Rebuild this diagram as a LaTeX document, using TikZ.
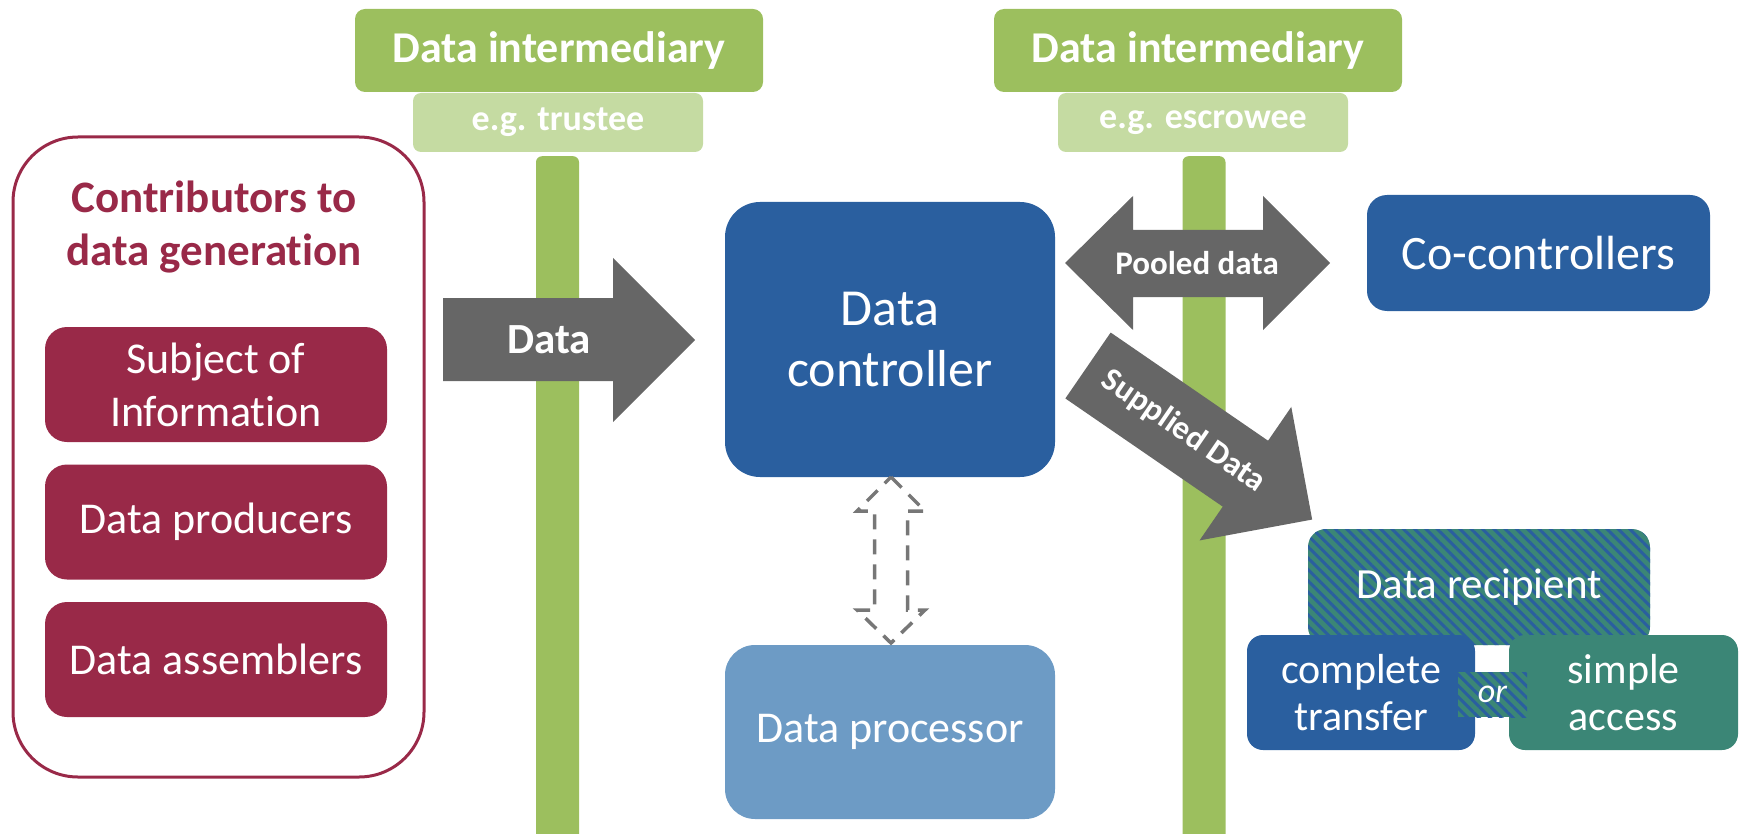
\documentclass[tikz,border=0pt]{standalone}
\usepackage{fontspec}
\setmainfont{Carlito}[Ligatures={NoCommon}]
\usetikzlibrary{patterns.meta}
\definecolor{cmaroon}{HTML}{992948}
\definecolor{cgreen}{HTML}{9CBF5E}
\definecolor{clight}{HTML}{C5DBA2}
\definecolor{cblue}{HTML}{2A5F9F}
\definecolor{cproc}{HTML}{6D9BC5}
\definecolor{cteal}{HTML}{3B8676}
\definecolor{cgray}{HTML}{666666}
\definecolor{cdash}{HTML}{777777}
\begin{document}
\begin{tikzpicture}[x=1pt,y=-1pt,
  every node/.style={inner sep=0pt, align=center, text=white},
  rbox/.style={fill=cmaroon, rounded corners=22pt, minimum width=342pt, minimum height=115pt, font=\fontsize{44}{53}\selectfont},
  ghead/.style={fill=cgreen, rounded corners=10pt, minimum width=408pt, minimum height=83pt, font=\bfseries\fontsize{44}{53}\selectfont},
  gsub/.style={fill=clight, rounded corners=8pt, minimum width=290pt, minimum height=59pt, font=\bfseries\fontsize{36}{43}\selectfont},
  gbar/.style={fill=cgreen, rounded corners=6pt, minimum width=43pt, minimum height=700pt, anchor=north},
  bbox/.style={fill=cblue, rounded corners=#1},
  blockarrow/.style={fill=cgray},
  arrowtext/.style={font=\bfseries\fontsize{#1}{#1}\selectfont},
  hatch/.style={fill=cteal, postaction={pattern={Lines[angle=-45,distance=8pt,line width=3pt]}, pattern color=cblue}},
]
\useasboundingbox (0,0) rectangle (1747,834);

% green intermediary bars
\node[gbar] (bar1) at (557.5,156) {};
\node[gbar] (bar2) at (1204,156) {};
\node[ghead] (int1) at (559,50.5) {Data intermediary};
\node[gsub] (eg1) at (558,122.5) {e.g. trustee};
\node[ghead] (int2) at (1198,50.5) {Data intermediary};
\node[gsub] (eg2) at (1203,122.5) {e.g. escrowee};

% contributors
\node[draw=cmaroon, line width=3pt, rounded corners=65pt, minimum width=411pt, minimum height=640pt] (contrib) at (218.5,457) {};
\node[text=cmaroon, font=\bfseries\fontsize{45}{53}\selectfont] (title) at (214,227) {Contributors to\\data generation};
\node[rbox] (subj) at (216,384.5) {Subject of\\Information};
\node[rbox] (prod) at (216,522) {Data producers};
\node[rbox] (asm) at (216,659.5) {Data assemblers};

% controller, processor, co-controllers
\node[bbox=35pt, minimum width=330pt, minimum height=275pt, font=\fontsize{52}{61}\selectfont] (ctrl) at (890,339.5) {Data\\controller};
\node[fill=cproc, rounded corners=30pt, minimum width=330pt, minimum height=174pt, font=\fontsize{44}{53}\selectfont] (proc) at (890,732) {Data processor};
\node[bbox=20pt, minimum width=343pt, minimum height=116pt, font=\fontsize{48}{58}\selectfont] (coc) at (1538.5,253) {Co-controllers};

% Data arrow
\fill[blockarrow] (443,298) -- (613,298) -- (613,258) -- (695,340) -- (613,422) -- (613,381) -- (443,381) -- cycle;
\node[arrowtext=43] (datatxt) at (549,340) {Data};

% Pooled data double arrow
\fill[blockarrow] (1065,263) -- (1133,196) -- (1133,230) -- (1263,230) -- (1263,196) -- (1330,263) -- (1263,330) -- (1263,297) -- (1133,297) -- (1133,330) -- cycle;
\node[arrowtext=33] (pooled) at (1197,263) {Pooled data};

% Supplied data arrow
\begin{scope}[shift={(1088,365.5)}, rotate=-34.5]
\fill[blockarrow] (0,-40) -- (191,-40) -- (191,-81) -- (272,0) -- (191,81) -- (191,40) -- (0,40) -- cycle;
\node[arrowtext=33, rotate=-34.5] (supplied) at (116,0) {Supplied Data};
\end{scope}

% dashed double arrow controller <-> processor
\draw[cdash, line width=3.5pt, dash pattern=on 15pt off 10pt] (891,477) -- (925,511) -- (907.5,511) -- (907.5,610) -- (925,610) -- (891,643) -- (857,610) -- (874.5,610) -- (874.5,511) -- (857,511) -- cycle;

% recipient
\node[hatch, rounded corners=18pt, minimum width=342pt, minimum height=116pt, font=\fontsize{43}{52}\selectfont] (recip) at (1479,587) {Data recipient};
\node[bbox=16pt, minimum width=228pt, minimum height=115pt, font=\fontsize{42}{47}\selectfont] (comp) at (1361,692.5) {complete\\transfer};
\node[fill=cteal, rounded corners=16pt, minimum width=229pt, minimum height=115pt, font=\fontsize{42}{47}\selectfont] (simp) at (1623.5,692.5) {simple\\access};
\node[hatch, minimum width=69pt, minimum height=45pt, font=\itshape\fontsize{34}{40}\selectfont] (orsq) at (1492.5,694.5) {or};
\end{tikzpicture}
\end{document}
